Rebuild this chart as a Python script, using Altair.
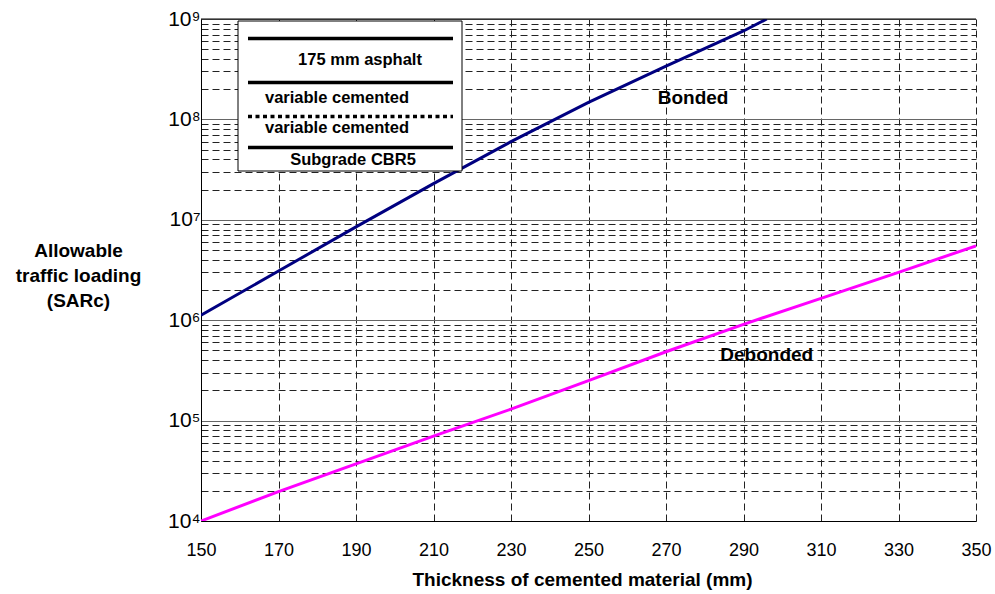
import altair as alt
import pandas as pd

# ---- data ----
thickness_bonded = [150, 170, 190, 210, 230, 250, 270, 290, 296]
sarc_bonded = [1.12e6, 3.09e6, 8.5e6, 2.29e7, 6.0e7, 1.48e8, 3.39e8, 7.6e8, 1.0e9]
thickness_debonded = [150, 170, 190, 210, 230, 250, 270, 290, 310, 330, 350]
sarc_debonded = [1.0e4, 1.96e4, 3.7e4, 7.0e4, 1.3e5, 2.5e5, 4.85e5, 9.1e5, 1.65e6, 3.0e6, 5.5e6]
series_names = ["Bonded", "Debonded"]
series_colors = ["#000080", "#ff00ff"]
x_ticks = [150, 170, 190, 210, 230, 250, 270, 290, 310, 330, 350]
y_ticks = [m * 10 ** d for d in range(4, 9) for m in range(1, 10)] + [10 ** 9]
label_text = ["Bonded", "Debonded"]
label_x = [277, 296]
label_y = [1.63e8, 4.5e5]
legend_texts = ["175 mm asphalt", "variable cemented", "variable cemented", "Subgrade CBR5"]

FONT = "Liberation Sans"
W, H = 775, 502

df = pd.concat([
    pd.DataFrame({"thickness": thickness_bonded, "sarc": sarc_bonded, "series": series_names[0]}),
    pd.DataFrame({"thickness": thickness_debonded, "sarc": sarc_debonded, "series": series_names[1]}),
])

is_decade = "abs(log(datum.value)/LN10 - round(log(datum.value)/LN10)) < 0.001"
sup = "['\u2070','\u00b9','\u00b2','\u00b3','\u2074','\u2075','\u2076','\u2077','\u2078','\u2079'][round(log(datum.value)/LN10)]"

x_scale = alt.Scale(domain=[150, 350], nice=False, zero=False)
y_scale = alt.Scale(type="log", domain=[1e4, 1e9], nice=False)

lines = alt.Chart(df).mark_line(strokeWidth=3, clip=True).encode(
    x=alt.X("thickness:Q", scale=x_scale,
            axis=alt.Axis(values=x_ticks, title="Thickness of cemented material (mm)",
                          grid=True, gridDash=[7, 4], gridColor="#222222", gridWidth=1,
                          ticks=False, domainColor="black", domainWidth=1,
                          labelFont=FONT, labelFontSize=18, labelColor="black",
                          labelPadding=20, labelFlush=False,
                          titleFont=FONT, titleFontSize=19, titleFontWeight="bold",
                          titleColor="black", titlePadding=11, titleX=381)),
    y=alt.Y("sarc:Q", scale=y_scale,
            axis=alt.Axis(values=y_ticks,
                          labelExpr=f"({is_decade}) ? '10' + {sup} : ''",
                          title=["Allowable", "traffic loading", "(SARc)"],
                          grid=True,
                          gridDash={"condition": {"test": is_decade, "value": []}, "value": [7, 4]},
                          gridColor={"condition": {"test": is_decade, "value": "#666666"}, "value": "#222222"},
                          gridWidth=1,
                          ticks=False, domainColor="black", domainWidth=1,
                          labelFont=FONT, labelFontSize=21, labelColor="black",
                          labelPadding=1, labelFlush=False, labelOverlap=False,
                          titleFont=FONT, titleFontSize=19, titleFontWeight="bold",
                          titleColor="black", titleAngle=0, titleAlign="center",
                          titleBaseline="alphabetic", titleX=-123, titleY=237,
                          titleLineHeight=25)),
    color=alt.Color("series:N", scale=alt.Scale(domain=series_names, range=series_colors), legend=None),
)

labels_df = pd.DataFrame({"thickness": label_x, "sarc": label_y, "text": label_text})
labels = alt.Chart(labels_df).mark_text(font=FONT, fontSize=19, fontWeight="bold",
                                        color="black", align="center", baseline="middle").encode(
    x=alt.X("thickness:Q", scale=x_scale),
    y=alt.Y("sarc:Q", scale=y_scale),
    text="text:N",
)

one = pd.DataFrame({"k": [0]})

top_border = alt.Chart(one).mark_rule(color="black", strokeWidth=1).encode(
    x=alt.value(0), x2=alt.value(W), y=alt.value(0))

box = alt.Chart(one).mark_rect(fill="white", stroke="black", strokeWidth=1).encode(
    x=alt.value(37), x2=alt.value(261), y=alt.value(2), y2=alt.value(152))

def leg_line(y, dash=None):
    kw = dict(color="black", strokeWidth=3.3)
    if dash:
        kw["strokeDash"] = dash
    return alt.Chart(one).mark_rule(**kw).encode(x=alt.value(47), x2=alt.value(252), y=alt.value(y))

leg_lines = [leg_line(19.5), leg_line(63.5), leg_line(97.5, [4, 3.5]), leg_line(128.5)]

def leg_text(i, xc, yc):
    return alt.Chart(one).mark_text(font=FONT, fontSize=16.5, fontWeight="bold", color="black",
                                    align="center", baseline="middle", text=legend_texts[i]).encode(
        x=alt.value(xc), y=alt.value(yc))

leg_texts = [leg_text(0, 159, 41), leg_text(1, 136, 79), leg_text(2, 136, 109), leg_text(3, 152, 141)]

chart = alt.layer(lines, labels, top_border, box, *leg_lines, *leg_texts).properties(
    width=W, height=H,
    autosize=alt.AutoSizeParams(type="none"),
    padding={"left": 201, "top": 19, "right": 19, "bottom": 73},
    background="white",
).configure_view(stroke=None)

chart.save("out.html", embed_options={"renderer": "svg", "actions": False})
